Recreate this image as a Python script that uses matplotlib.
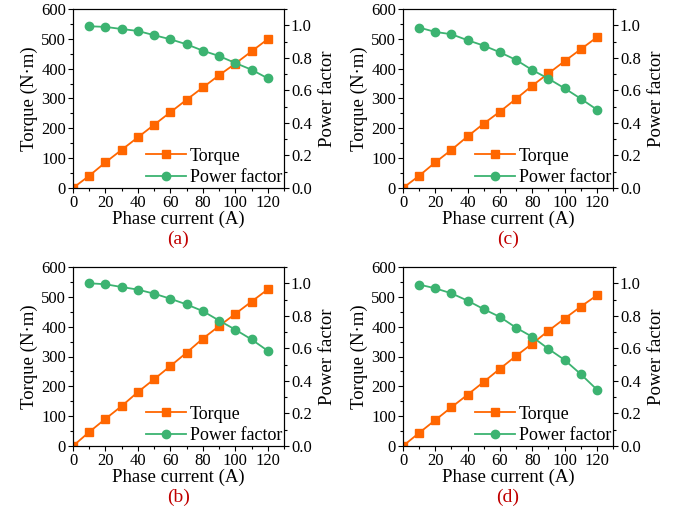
import numpy as np
import matplotlib
matplotlib.use('Agg')
from matplotlib import pyplot as plt
from matplotlib.ticker import MultipleLocator

plt.rcParams['font.family'] = 'Liberation Serif'
plt.rcParams['mathtext.fontset'] = 'stix'

current_torque = [0, 10, 20, 30, 40, 50, 60, 70, 80, 90, 100, 110, 120]
current_pf = [10, 20, 30, 40, 50, 60, 70, 80, 90, 100, 110, 120]

# torque (N.m) for each case
torque_a = [0, 41, 86, 128, 170, 212, 254, 296, 337, 378, 417, 458, 499]
torque_b = [0, 47, 91, 134, 181, 224, 268, 313, 360, 402, 443, 484, 525]
torque_c = [0, 41, 86, 128, 173, 216, 256, 299, 343, 384, 425, 465, 505]
torque_d = [0, 44, 87, 130, 172, 215, 259, 302, 343, 386, 427, 467, 505]

# power factor for each case
pf_a = [0.994, 0.99, 0.977, 0.965, 0.939, 0.914, 0.883, 0.844, 0.811, 0.768, 0.727, 0.674]
pf_b = [1.0, 0.994, 0.977, 0.961, 0.936, 0.905, 0.870, 0.829, 0.771, 0.715, 0.655, 0.585]
pf_c = [0.986, 0.959, 0.945, 0.908, 0.875, 0.834, 0.787, 0.725, 0.672, 0.613, 0.549, 0.482]
pf_d = [0.992, 0.969, 0.938, 0.893, 0.841, 0.793, 0.727, 0.671, 0.597, 0.529, 0.442, 0.347]

labels = ['(a)', '(b)', '(c)', '(d)']

W, H = 673, 519
fig = plt.figure(figsize=(W / 100, H / 100), dpi=100)

# axes boxes in pixels: left, top, right, bottom
boxes = [(73, 9, 284, 188), (73, 267, 284, 446), (403, 9, 613, 188), (403, 267, 613, 446)]
torques = [torque_a, torque_b, torque_c, torque_d]
pfs = [pf_a, pf_b, pf_c, pf_d]

orange = '#FF6600'
green = '#3CB371'

for (l, t, r, b), tq, pf, lab in zip(boxes, torques, pfs, labels):
    ax = fig.add_axes([l / W, 1 - b / H, (r - l) / W, (b - t) / H])
    ax2 = ax.twinx()
    l1, = ax.plot(current_torque, tq, color=orange, marker='s', markersize=5.5, lw=1.3, label='Torque')
    l2, = ax2.plot(current_pf, pf, color=green, marker='o', markersize=6, lw=1.3, label='Power factor')
    ax.set_xlim(0, 130)
    ax.set_ylim(0, 600)
    ax2.set_ylim(0, 1.1)
    ax.xaxis.set_major_locator(MultipleLocator(20))
    ax.xaxis.set_minor_locator(MultipleLocator(10))
    ax.yaxis.set_major_locator(MultipleLocator(100))
    ax.yaxis.set_minor_locator(MultipleLocator(50))
    ax2.yaxis.set_major_locator(MultipleLocator(0.2))
    ax2.yaxis.set_minor_locator(MultipleLocator(0.1))
    ax2.yaxis.set_major_formatter(matplotlib.ticker.FormatStrFormatter('%.1f'))
    for a in (ax, ax2):
        a.tick_params(which='major', length=3.5, width=0.8, labelsize=12, pad=1.5)
        a.tick_params(which='minor', length=2, width=0.8)
    ax.set_xlabel('Phase current (A)', fontsize=13.5, labelpad=0)
    ax.set_ylabel('Torque (N·m)', fontsize=13.5, labelpad=2)
    ax2.set_ylabel('Power factor', fontsize=13.5, labelpad=5)
    ax.legend([l1, l2], ['Torque', 'Power factor'], loc='lower right', frameon=False,
              fontsize=13, handlelength=2.2, borderaxespad=0.0, labelspacing=0.25,
              handletextpad=0.2, borderpad=0.1)
    ax.text(0.5, -0.24, lab, transform=ax.transAxes, ha='center', va='top',
            fontsize=14, color='#C00000')

plt.savefig('out.png', dpi=100)
plt.close()
